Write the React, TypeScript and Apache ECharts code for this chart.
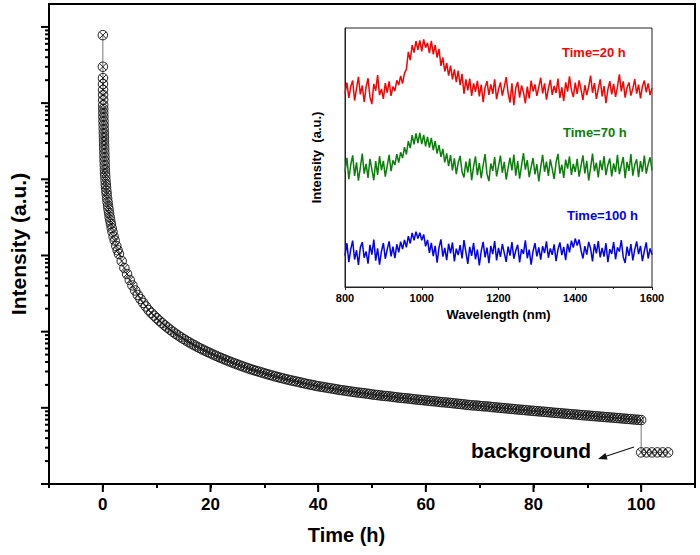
import React, { useEffect, useRef } from "react";
import * as echarts from "echarts";

// ---------- main decay curve: [time (h), intensity (a.u.)] ----------
const decayPoints: [number, number][] = [
  [0, 780000], [0.01, 300000], [0.02, 213000], [0.03, 178000], [0.04, 149000], [0.05, 128000],
  [0.06, 110000], [0.07, 94400], [0.08, 83700], [0.09, 74200], [0.1, 65800], [0.12, 58200],
  [0.14, 51600], [0.16, 45700], [0.18, 40500], [0.2, 35900], [0.22, 31800], [0.24, 28200],
  [0.26, 25000], [0.28, 22100], [0.3, 19600], [0.32, 17400], [0.35, 15400], [0.38, 13600],
  [0.41, 12100], [0.45, 10900], [0.5, 9660], [0.55, 8650], [0.6, 7820], [0.66, 7000],
  [0.72, 6340], [0.8, 5610], [0.88, 5020], [0.97, 4480], [1.06, 4020], [1.16, 3600],
  [1.27, 3210], [1.38, 2890], [1.5, 2590], [1.65, 2290], [1.8, 2040], [2, 1770],
  [2.2, 1570], [2.5, 1330], [2.75, 1170],
  [3, 1045], [3.5, 845], [4, 684], [4.5, 571], [5, 476], [5.5, 404], [6, 347], [6.5, 303],
  [7, 268], [7.5, 238], [8, 214], [8.5, 192], [9, 176], [9.5, 162.3], [10, 150.2], [10.5, 139.3],
  [11, 129.6], [11.5, 120.9], [12, 113.1], [12.5, 106.1], [13, 99.8], [13.5, 94.1], [14, 89.1],
  [14.5, 84.4], [15, 80.2], [15.5, 76.2], [16, 72.7], [16.5, 69.3], [17, 66.3], [17.5, 63.5],
  [18, 60.8], [18.5, 58.4], [19, 56.1], [19.5, 54.0], [20, 52.0], [20.5, 50.1], [21, 48.3],
  [21.5, 46.6], [22, 45.0], [22.5, 43.5], [23, 42.1], [23.5, 40.7], [24, 39.4], [24.5, 38.2],
  [25, 37.1], [25.5, 36.0], [26, 34.9], [26.5, 33.9], [27, 33.0], [27.5, 32.1], [28, 31.3],
  [28.5, 30.5], [29, 29.8], [29.5, 29.1], [30, 28.4],
  [30.5, 27.7], [31, 27.1], [31.5, 26.5], [32, 25.9], [32.5, 25.3], [33, 24.8], [33.5, 24.3],
  [34, 23.8], [34.5, 23.35], [35, 22.9], [35.5, 22.5], [36, 22.1], [36.5, 21.7], [37, 21.3],
  [37.5, 20.9], [38, 20.5], [38.5, 20.2], [39, 19.9], [39.5, 19.5], [40, 19.2], [40.5, 18.95],
  [41, 18.7], [41.5, 18.45], [42, 18.2], [42.5, 17.95], [43, 17.7], [43.5, 17.45], [44, 17.2],
  [44.5, 17.0], [45, 16.8], [45.5, 16.6], [46, 16.4], [46.5, 16.2], [47, 16.0], [47.5, 15.85],
  [48, 15.7], [48.5, 15.55], [49, 15.4], [49.5, 15.2], [50, 15.0], [50.5, 14.85], [51, 14.7],
  [51.5, 14.55], [52, 14.4], [52.5, 14.3], [53, 14.2], [53.5, 14.05], [54, 13.9], [54.5, 13.75],
  [55, 13.6], [55.5, 13.5], [56, 13.4], [56.5, 13.3], [57, 13.2], [57.5, 13.05], [58, 12.9],
  [58.5, 12.8], [59, 12.7], [59.5, 12.6], [60, 12.5], [60.5, 12.4], [61, 12.25], [61.5, 12.2],
  [62, 12.1], [62.5, 11.95], [63, 11.85], [63.5, 11.8], [64, 11.7], [64.5, 11.6], [65, 11.5],
  [65.5, 11.4], [66, 11.3], [66.5, 11.2], [67, 11.1], [67.5, 11.0], [68, 10.9], [68.5, 10.8],
  [69, 10.75], [69.5, 10.7], [70, 10.6], [70.5, 10.5], [71, 10.45], [71.5, 10.4], [72, 10.3],
  [72.5, 10.2], [73, 10.13], [73.5, 10.05], [74, 9.98], [74.5, 9.9], [75, 9.82], [75.5, 9.75],
  [76, 9.68], [76.5, 9.6], [77, 9.53], [77.5, 9.46], [78, 9.39], [78.5, 9.32], [79, 9.25],
  [79.5, 9.18], [80, 9.12], [80.5, 9.05], [81, 8.98], [81.5, 8.93], [82, 8.87], [82.5, 8.8],
  [83, 8.74], [83.5, 8.67], [84, 8.6], [84.5, 8.55], [85, 8.5], [85.5, 8.43], [86, 8.37],
  [86.5, 8.31], [87, 8.25], [87.5, 8.2], [88, 8.15], [88.5, 8.08], [89, 8.02], [89.5, 7.97],
  [90, 7.93], [90.5, 7.87], [91, 7.81], [91.5, 7.76], [92, 7.71], [92.5, 7.65], [93, 7.6],
  [93.5, 7.55], [94, 7.51], [94.5, 7.45], [95, 7.4], [95.5, 7.35], [96, 7.31], [96.5, 7.25],
  [97, 7.2], [97.5, 7.15], [98, 7.11], [98.5, 7.05], [99, 7.0], [99.5, 6.96], [100, 6.92],
];

const backgroundPoints: [number, number][] = [
  [100, 2.6], [101, 2.6], [102, 2.6], [103, 2.6], [104, 2.6], [105, 2.6],
];

const xTickLabels = [0, 20, 40, 60, 80, 100];
const yMajorTicks = [1, 10, 100, 1000, 10000, 100000, 1000000];
const minorMultiples = [2, 3, 4, 5, 6, 7, 8, 9];

// ---------- inset spectra (800–1600 nm, 5 nm step) ----------
const WL_START = 800;
const WL_STEP = 5;
const redSpectrum = [
  74.7, 78.9, 73.0, 77.4, 79.7, 72.0, 76.6, 81.1, 74.4, 77.8,
  71.5, 77.3, 80.6, 73.4, 70.6, 78.4, 75.8, 81.8, 74.1, 76.5,
  72.6, 78.7, 75.0, 79.4, 73.8, 77.4, 75.7, 79.8, 78.0, 81.5,
  78.5, 82.6, 84.0, 90.8, 87.6, 93.4, 90.5, 94.9, 91.6, 95.2,
  91.0, 95.6, 92.4, 94.3, 90.3, 95.0, 89.8, 93.4, 88.6, 91.9,
  85.4, 88.6, 83.2, 86.4, 81.6, 85.5, 80.2, 84.0, 79.1, 83.5,
  77.9, 82.3, 74.6, 80.2, 75.9, 80.5, 73.8, 78.6, 75.4, 79.6,
  73.6, 78.1, 71.4, 77.0, 79.5, 74.2, 78.2, 74.6, 80.2, 72.5,
  76.3, 79.0, 73.9, 77.3, 81.0, 74.9, 71.2, 78.6, 70.2, 76.8,
  79.2, 73.1, 77.8, 75.2, 70.9, 77.4, 72.8, 79.7, 75.5, 78.2,
  73.8, 77.3, 80.8, 74.7, 78.6, 72.3, 76.6, 80.0, 74.2, 77.6,
  74.9, 80.5, 73.0, 77.1, 71.8, 79.0, 75.4, 81.3, 76.0, 73.3,
  78.9, 74.6, 79.8, 76.3, 72.2, 77.9, 74.1, 77.4, 81.6, 75.0,
  78.7, 72.6, 76.5, 80.2, 73.6, 77.6, 71.0, 76.2, 79.5, 74.4,
  78.4, 73.4, 77.3, 82.1, 75.5, 79.4, 73.1, 77.0, 79.0, 73.9,
  76.6, 80.3, 74.7, 78.1, 72.8, 77.4, 79.7, 75.2, 78.6, 74.1,
  76.8,
];
const greenSpectrum = [
  44.5, 49.9, 41.6, 47.2, 50.8, 42.9, 48.1, 41.1, 46.2, 51.5,
  43.8, 47.5, 42.1, 49.5, 45.4, 41.2, 48.6, 43.3, 50.5, 45.1,
  48.7, 42.6, 46.8, 51.0, 44.7, 48.9, 47.1, 51.3, 48.0, 52.0,
  49.8, 54.0, 51.2, 56.3, 53.6, 58.6, 55.1, 59.3, 55.6, 59.5,
  55.2, 58.7, 54.3, 58.0, 53.8, 57.6, 52.8, 56.3, 51.5, 54.8,
  50.2, 53.3, 48.1, 51.6, 46.7, 50.9, 45.0, 49.7, 43.6, 48.0,
  50.6, 44.4, 42.3, 48.4, 44.2, 49.6, 41.2, 46.5, 50.4, 43.2,
  47.8, 42.0, 47.1, 51.3, 43.6, 40.9, 47.7, 44.8, 50.2, 42.7,
  46.6, 50.7, 44.1, 48.3, 41.5, 45.9, 49.9, 45.0, 51.1, 43.0,
  48.6, 41.8, 46.9, 51.7, 45.3, 49.0, 42.4, 46.2, 49.8, 43.5,
  47.4, 40.8, 46.3, 51.0, 44.5, 48.4, 42.9, 49.3, 45.6, 41.7,
  48.1, 51.4, 43.8, 47.2, 42.1, 49.2, 45.7, 50.4, 43.3, 47.5,
  44.4, 49.5, 42.6, 46.8, 50.8, 43.9, 48.7, 41.1, 46.0, 51.5,
  44.7, 48.0, 42.3, 48.9, 45.1, 50.5, 43.2, 47.1, 49.6, 42.7,
  47.7, 44.4, 51.0, 43.6, 46.9, 50.2, 42.0, 48.3, 44.8, 51.3,
  43.0, 47.2, 49.3, 42.4, 48.6, 44.5, 50.7, 43.8, 47.4, 50.1,
  45.0,
];
const blueSpectrum = [
  12.1, 16.9, 9.6, 14.6, 17.9, 10.6, 14.2, 8.5, 15.3, 17.3,
  11.3, 13.7, 9.0, 16.3, 12.5, 18.3, 10.2, 14.9, 8.6, 13.8,
  17.0, 10.9, 14.5, 17.6, 11.8, 15.6, 11.1, 16.5, 13.4, 17.5,
  14.6, 18.2, 15.3, 19.6, 16.8, 20.9, 18.0, 21.4, 18.7, 21.0,
  18.0, 20.3, 15.7, 18.2, 13.2, 17.0, 11.9, 15.9, 9.4, 15.2,
  18.4, 11.7, 15.1, 10.4, 16.7, 13.0, 17.2, 9.9, 14.8, 12.3,
  16.2, 11.0, 18.1, 13.5, 8.9, 15.5, 12.0, 17.0, 10.7, 14.4,
  8.3, 13.9, 17.4, 11.4, 15.2, 9.2, 15.9, 12.7, 17.7, 10.3,
  15.1, 11.6, 16.6, 13.2, 9.7, 15.6, 12.1, 17.3, 10.9, 14.1,
  16.3, 9.5, 14.6, 12.8, 18.0, 11.1, 14.4, 8.6, 13.8, 16.9,
  11.8, 15.3, 10.6, 15.8, 13.1, 17.6, 11.3, 14.9, 12.4, 16.5,
  10.0, 14.5, 17.2, 12.3, 15.5, 10.4, 16.7, 13.4, 17.9, 15.2,
  18.7, 16.0, 18.3, 14.2, 11.0, 15.8, 12.5, 17.4, 14.8, 9.9,
  16.6, 13.0, 17.7, 11.4, 15.1, 11.7, 16.9, 9.6, 14.6, 12.8,
  17.3, 10.7, 15.3, 13.7, 18.1, 11.6, 9.3, 15.6, 12.0, 16.6,
  10.3, 14.4, 17.6, 12.7, 15.9, 10.0, 13.9, 17.2, 11.0, 14.9,
  12.5,
];
const spectrumLabels = ["Time=20 h", "Time=70 h", "Time=100 h"];
const spectrumColors = ["#ff0000", "#0a800a", "#0000ff"];

const FONT = '"Liberation Sans", Arial, Helvetica, sans-serif';
const MARKER =
  "path://M10,0A10,10 0 1,1 10,20A10,10 0 1,1 10,0ZM2.93,2.93L17.07,17.07M2.93,17.07L17.07,2.93";

export default function App() {
  const ref = useRef<HTMLDivElement>(null);

  useEffect(() => {
    if (!ref.current) return;
    const chart = echarts.init(ref.current, undefined, { renderer: "svg" });

    const X_MIN = -10;
    const Y_MIN = 1;
    const yTickData: number[][] = [];
    yMajorTicks.forEach((m, i) => {
      yTickData.push([X_MIN, m, 1]);
      if (i < yMajorTicks.length - 1) {
        minorMultiples.forEach((k) => yTickData.push([X_MIN, k * m, 0]));
      }
    });
    const xTickData = xTickLabels.map((v) => [v, Y_MIN]);

    const wavelengths = redSpectrum.map((_, i) => WL_START + i * WL_STEP);
    const spectra = [redSpectrum, greenSpectrum, blueSpectrum];

    const boldText = (size: number) => ({
      color: "#000",
      fontFamily: FONT,
      fontWeight: "bold" as const,
      fontSize: size,
    });

    const option: any = {
      animation: false,
      backgroundColor: "#ffffff",
      grid: [
        {
          left: 46, right: 5, top: 4, bottom: 71,
          show: true, borderColor: "#000", borderWidth: 2, backgroundColor: "transparent",
        },
        {
          left: 345, right: 48, top: 28, bottom: 268,
          show: true, borderColor: "#222", borderWidth: 1, backgroundColor: "#fff",
        },
      ],
      xAxis: [
        {
          type: "value", gridIndex: 0, min: -10, max: 110, interval: 10,
          axisLine: { show: true, onZero: false, lineStyle: { color: "#000", width: 2 } },
          axisTick: { show: true, length: 4, lineStyle: { color: "#000", width: 2 } },
          axisLabel: {
            ...boldText(17), margin: 12,
            formatter: (v: number) => (xTickLabels.indexOf(v) >= 0 ? String(v) : ""),
          },
          splitLine: { show: false },
          name: "Time (h)", nameLocation: "middle", nameGap: 41,
          nameTextStyle: { ...boldText(20), padding: [0, 51, 0, 0] },
        },
        {
          type: "value", gridIndex: 1, min: 800, max: 1600, interval: 200,
          axisLine: { show: true, onZero: false, lineStyle: { color: "#222", width: 1 } },
          axisTick: { show: true, length: 3, lineStyle: { color: "#222", width: 1 } },
          minorTick: { show: true, splitNumber: 2, length: 2, lineStyle: { color: "#222", width: 1 } },
          axisLabel: { ...boldText(11), margin: 5, formatter: (v: number) => String(v) },
          splitLine: { show: false },
          name: "Wavelength (nm)", nameLocation: "middle", nameGap: 21,
          nameTextStyle: boldText(13),
        },
      ],
      yAxis: [
        {
          type: "log", logBase: 10, gridIndex: 0, min: 1, max: 2000000,
          axisLine: { show: true, onZero: false, lineStyle: { color: "#000", width: 2 } },
          axisTick: { show: false },
          axisLabel: { show: false },
          splitLine: { show: false },
          name: "Intensity (a.u.)", nameLocation: "middle", nameGap: 20,
          nameTextStyle: boldText(21),
        },
        {
          type: "value", gridIndex: 1, min: 0, max: 100,
          axisLine: { show: true, onZero: false, lineStyle: { color: "#222", width: 1 } },
          axisTick: { show: false },
          axisLabel: { show: false },
          splitLine: { show: false },
          name: "Intensity  (a.u.)", nameLocation: "middle", nameGap: 22,
          nameTextStyle: boldText(13),
        },
      ],
      series: [
        {
          type: "line", xAxisIndex: 0, yAxisIndex: 0,
          data: decayPoints.concat(backgroundPoints),
          symbol: MARKER, symbolSize: 9.5, symbolKeepAspect: true, showAllSymbol: true,
          lineStyle: { color: "#777", width: 1 },
          itemStyle: { color: "rgba(255,255,255,0)", borderColor: "#111", borderWidth: 0.9 },
          silent: true, z: 3,
        },
        {
          type: "custom", xAxisIndex: 0, yAxisIndex: 0, clip: false, silent: true, z: 5,
          data: yTickData,
          renderItem: (_p: any, api: any) => {
            const pt = api.coord([api.value(0), api.value(1)]);
            const len = api.value(2) === 1 ? 8 : 4;
            return {
              type: "line",
              shape: { x1: pt[0], y1: pt[1], x2: pt[0] - len, y2: pt[1] },
              style: { stroke: "#000", lineWidth: 2 },
            };
          },
        },
        {
          type: "custom", xAxisIndex: 0, yAxisIndex: 0, clip: false, silent: true, z: 5,
          data: xTickData,
          renderItem: (_p: any, api: any) => {
            const pt = api.coord([api.value(0), api.value(1)]);
            return {
              type: "line",
              shape: { x1: pt[0], y1: pt[1], x2: pt[0], y2: pt[1] + 8 },
              style: { stroke: "#000", lineWidth: 2 },
            };
          },
        },
        ...spectra.map((s, k) => ({
          type: "line", xAxisIndex: 1, yAxisIndex: 1,
          data: s.map((v, i) => [wavelengths[i], v]),
          symbol: "none", silent: true,
          lineStyle: { color: spectrumColors[k], width: 1.5 },
          z: 4,
        })),
      ],
      graphic: [
        {
          type: "text", left: 471, top: 440,
          style: { text: "background", fill: "#000", font: `bold 21px ${FONT}` },
        },
        {
          type: "line",
          shape: { x1: 634, y1: 447, x2: 606, y2: 456.2 },
          style: { stroke: "#111", lineWidth: 1.2 },
        },
        {
          type: "polygon",
          shape: { points: [[598, 459], [607.6, 459.5], [605.4, 452.9]] },
          style: { fill: "#111" },
        },
        {
          type: "text", x: 562, y: 52,
          style: { text: spectrumLabels[0], fill: spectrumColors[0], font: `bold 13px ${FONT}`, verticalAlign: "middle" },
          z: 10,
        },
        {
          type: "text", x: 563, y: 132,
          style: { text: spectrumLabels[1], fill: spectrumColors[1], font: `bold 13px ${FONT}`, verticalAlign: "middle" },
          z: 10,
        },
        {
          type: "text", x: 567, y: 215,
          style: { text: spectrumLabels[2], fill: spectrumColors[2], font: `bold 13px ${FONT}`, verticalAlign: "middle" },
          z: 10,
        },
      ],
    };

    chart.setOption(option);
    return () => chart.dispose();
  }, []);

  return (
    <div
      ref={ref}
      style={{ position: "fixed", left: 0, top: 0, width: 700, height: 555, background: "#fff" }}
    />
  );
}
